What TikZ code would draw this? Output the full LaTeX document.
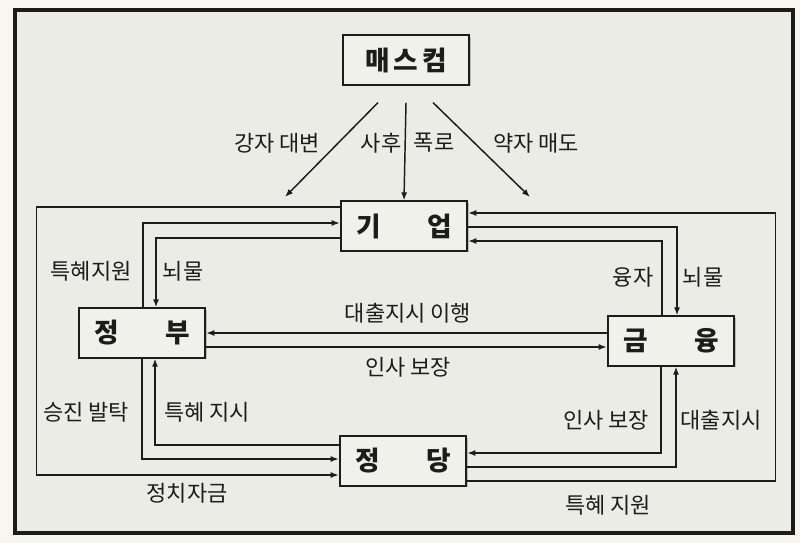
\documentclass[tikz,border=0pt]{standalone}
\usepackage{fontspec}
\setmainfont{Noto Sans CJK KR}
\usepackage{tikz}
\usetikzlibrary{positioning}
\usetikzlibrary{calc}
\usetikzlibrary{arrows.meta}
\usetikzlibrary{shadows}
\definecolor{paper}{HTML}{F7F6EF}
\definecolor{inner}{HTML}{ECECE6}
\definecolor{boxfill}{HTML}{F1F1EC}
\definecolor{ink}{HTML}{1C1C1C}

\begin{document}
\begin{tikzpicture}[x=0.75pt, y=-0.75pt,
                    box/.style={draw=ink, line width=1.4pt, fill=boxfill, text=ink,
                                minimum width=95pt, minimum height=37pt, inner sep=0pt,
                                font=\fontsize{20}{20}\selectfont\bfseries,
                                drop shadow={shadow xshift=1.2pt, shadow yshift=-1.2pt, fill=black!45}},
                    conn/.style={draw=ink, line width=1.1pt},
                    arr/.style={conn, -{Latex[length=6pt, width=4.5pt]}},
                    lbl/.style={text=ink, inner sep=1pt, font=\fontsize{16.5}{17}\selectfont}]
            \path[use as bounding box, fill=paper] (0,0) rectangle (800,543);
            \draw[ink, fill=inner, line width=2.8pt] (15,10) rectangle (793,533);

            \node[box] (masscom)   at (406,60)  {매\hspace{3pt}스\hspace{3pt}컴};
            \node[box] (giup)      at (404,226) {기\hspace{1.75em}업};
            \node[box] (jeongbu)   at (142,333) {정\hspace{1.75em}부};
            \node[box] (geumyung)  at (671,341) {금\hspace{1.75em}융};
            \node[box] (jeongdang) at (403,461) {정\hspace{1.75em}당};

            \coordinate (strongend) at (285,197);
            \coordinate (weakend)   at (530,197);
            \draw[arr] ($(masscom.south)+(-28,17)$) -- (strongend);
            \draw[arr] ($(masscom.south)+(0,17)$) -- (giup.north);
            \draw[arr] ($(masscom.south)+(27,17)$) -- (weakend);
            \node[lbl] (strong)  at (277,143) {강자 대변};
            \node[lbl] (after)   at (381,143) {사후};
            \node[lbl] (expose)  at (434,143) {폭로};
            \node[lbl] (weak)    at (536,143) {약자 매도};

            \draw[arr] ($(giup.west)+(0,-19)$) -| ($(jeongdang.west)+(-302,14)$)
                       -- ($(jeongdang.west)+(0,14)$);
            \draw[arr] ($(jeongbu.north)+(1,0)$) |- ($(giup.west)+(0,-3)$);
            \draw[arr] ($(giup.west)+(0,12)$) -| ($(jeongbu.north)+(14,0)$);
            \node[lbl] (favorsup) at (91,271)  {특혜지원};
            \node[lbl] (bribegov) at (183,271) {뇌물};
            \node[lbl] (funds)    at (187,493) {정치자금};

            \draw[arr] ($(geumyung.west)+(0,-8)$) -- (jeongbu.east);
            \draw[arr] ($(jeongbu.east)+(0,14)$) -- ($(geumyung.west)+(0,6)$);
            \node[lbl] (loanexec)  at (408,313) {대출지시 이행};
            \node[lbl] (personnel) at (408,367) {인사 보장};

            \draw[arr] ($(geumyung.north)+(-9,0)$) |- ($(giup.east)+(0,15)$);
            \draw[arr] ($(giup.east)+(0,1)$) -| ($(geumyung.north)+(6,0)$);
            \node[lbl] (credit)    at (633,277) {융자};
            \node[lbl] (bribefin)  at (703,277) {뇌물};

            \draw[arr] ($(jeongdang.east)+(0,20)$) -| ($(giup.east)+(307,-13)$)
                       -- ($(giup.east)+(0,-13)$);
            \node[lbl] (favorparty) at (608,505) {특혜 지원};

            \draw[arr] ($(geumyung.south)+(-10,0)$) |- ($(jeongdang.east)+(0,-8)$);
            \draw[arr] ($(jeongdang.east)+(0,6)$) -| ($(geumyung.south)+(5,0)$);
            \node[lbl] (guarantee) at (606,420) {인사 보장};
            \node[lbl] (loanorder) at (721,420) {대출지시};

            \draw[arr] (jeongbu.south) |- ($(jeongdang.west)+(0,-2)$);
            \draw[arr] ($(jeongdang.west)+(0,-16)$) -| ($(jeongbu.south)+(13,0)$);
            \node[lbl] (promote) at (86,412)  {승진 발탁};
            \node[lbl] (order)   at (207,412) {특혜 지시};
        \end{tikzpicture}
\end{document}
